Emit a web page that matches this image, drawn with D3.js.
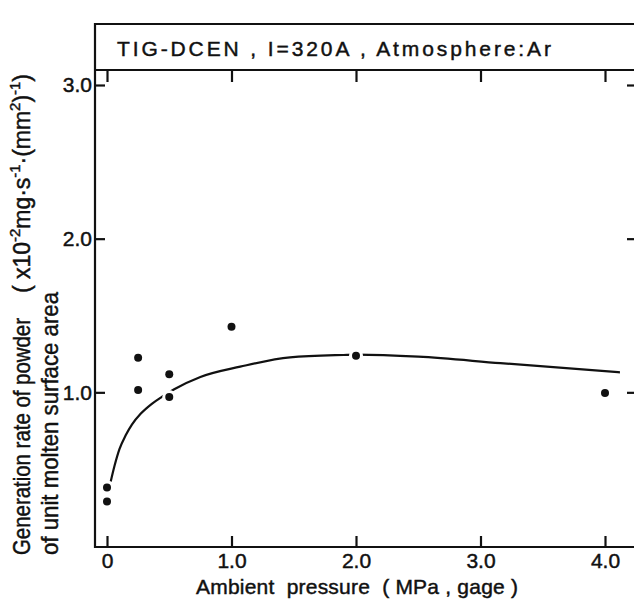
<!DOCTYPE html>
<html>
<head>
<meta charset="utf-8">
<script src="https://cdn.jsdelivr.net/npm/d3@7"></script>
<style>
  body { margin: 0; background: #fff; }
  text { font-family: "Liberation Sans", Arial, sans-serif; fill: #111; stroke: #111; stroke-width: 0.45px; white-space: pre; }
</style>
</head>
<body>
<div id="chart"></div>
<script>
// Powder generation rate vs ambient pressure (TIG-DCEN, I=320A, Ar)
const width = 634;
const height = 601;

// measured points
const pressure = [0, 0, 0.25, 0.25, 0.5, 0.5, 1.0, 2.0, 4.0];
const rate = [0.38, 0.29, 1.225, 1.015, 1.117, 0.97, 1.427, 1.238, 0.995];

// hand-drawn fitting curve
const fitPressure = [0.03, 0.06, 0.10, 0.15, 0.20, 0.27, 0.36, 0.44, 0.54, 0.75, 1.07, 1.47, 1.9, 2.0, 2.5, 3.16, 4.12];
const fitRate = [0.42, 0.52, 0.63, 0.72, 0.79, 0.86, 0.925, 0.97, 1.02, 1.10, 1.167, 1.228, 1.243, 1.245, 1.232, 1.19, 1.13];

// ticks
const xTicks = [0, 1, 2, 3, 4];
const xTickLabels = ["0", "1.0", "2.0", "3.0", "4.0"];
const yTicks = [1, 2, 3];
const yTickLabels = ["1.0", "2.0", "3.0"];

const titleText = "TIG-DCEN , I=320A , Atmosphere:Ar";
const xTitle = "Ambient  pressure  ( MPa , gage )";
const yTitle1 = "Generation rate of powder";
const yTitle2 = "of unit molten surface area";

// frame
const frameL = 95, frameR = 638, frameT = 70, frameB = 547, boxT = 24;

const svg = d3.select("#chart")
    .append("svg")
    .attr("width", width)
    .attr("height", height);

const x = d3.scaleLinear().domain([0, 4]).range([107, 605]);
const y = d3.scaleLinear().domain([0, 3]).range([546, 85]);

const ink = "#111";

// title box + plot frame
svg.append("path")
    .attr("d", `M${frameR + 5},${boxT}H${frameL}V${frameB}H${frameR + 5}M${frameL},${frameT}H${frameR + 5}M${frameR},${boxT}V${frameB}`)
    .attr("fill", "none")
    .attr("stroke", ink)
    .attr("stroke-width", 2.2);

svg.append("text")
    .attr("x", 117)
    .attr("y", 56)
    .attr("font-size", 21)
    .attr("textLength", 434)
    .attr("lengthAdjust", "spacing")
    .text(titleText);

// axes
svg.append("g")
    .attr("transform", `translate(0,${frameB})`)
    .call(d3.axisBottom(x).tickValues(xTicks).tickSizeInner(-11).tickSizeOuter(0)
        .tickPadding(6).tickFormat((d, i) => xTickLabels[i]));

svg.append("g")
    .attr("transform", `translate(0,${frameT})`)
    .call(d3.axisTop(x).tickValues(xTicks).tickSizeInner(-12).tickSizeOuter(0).tickFormat(""));

svg.append("g")
    .attr("transform", `translate(${frameL},0)`)
    .call(d3.axisLeft(y).tickValues(yTicks).tickSizeInner(-10).tickSizeOuter(0)
        .tickPadding(3).tickFormat((d, i) => yTickLabels[i]));

svg.append("g")
    .attr("transform", `translate(${frameR},0)`)
    .call(d3.axisRight(y).tickValues(yTicks).tickSizeInner(-11).tickSizeOuter(0).tickFormat(""));

svg.selectAll(".domain").remove();
svg.selectAll(".tick line").attr("stroke", ink).attr("stroke-width", 2.2);
svg.selectAll(".tick text")
    .attr("font-family", "Liberation Sans, Arial, sans-serif")
    .attr("font-size", 21)
    .attr("fill", ink);

// axis titles
svg.append("text")
    .attr("x", 196)
    .attr("y", 594)
    .attr("font-size", 21)
    .attr("textLength", 322)
    .text(xTitle);

svg.append("text")
    .attr("transform", "translate(30,555) rotate(-90)")
    .attr("font-size", 24)
    .attr("textLength", 237)
    .attr("lengthAdjust", "spacingAndGlyphs")
    .text(yTitle1);

svg.append("text")
    .attr("transform", "translate(58,555) rotate(-90)")
    .attr("font-size", 24)
    .attr("textLength", 263)
    .attr("lengthAdjust", "spacingAndGlyphs")
    .text(yTitle2);

// unit with superscripts
const unitParts = [
    { t: "( x10", sup: false },
    { t: "-2", sup: true },
    { t: "mg·s", sup: false },
    { t: "-1", sup: true },
    { t: "·(mm", sup: false },
    { t: "2", sup: true },
    { t: ")", sup: false },
    { t: "-1", sup: true },
    { t: ")", sup: false }
];
const unit = svg.append("text")
    .attr("transform", "translate(30,293) rotate(-90)")
    .attr("font-size", 23);
let raised = false;
unitParts.forEach(p => {
    const ts = unit.append("tspan").text(p.t);
    if (p.sup) {
        ts.attr("font-size", 15).attr("dy", raised ? 0 : -10);
        raised = true;
    } else {
        ts.attr("dy", raised ? 10 : 0);
        raised = false;
    }
});
const natural = unit.node().getComputedTextLength();
const nChars = unitParts.reduce((s, p) => s + p.t.length, 0);
unit.attr("letter-spacing", (219 - natural) / nChars);

// fitted curve
const line = d3.line()
    .x((d, i) => x(fitPressure[i]))
    .y((d, i) => y(fitRate[i]))
    .curve(d3.curveMonotoneX);

svg.append("path")
    .datum(fitPressure)
    .attr("d", line)
    .attr("fill", "none")
    .attr("stroke", ink)
    .attr("stroke-width", 2.2);

// points, with a white gap where they sit on the curve
svg.selectAll("circle.halo")
    .data(pressure)
    .join("circle")
    .attr("class", "halo")
    .attr("cx", d => x(d))
    .attr("cy", (d, i) => y(rate[i]))
    .attr("r", 7)
    .attr("fill", "#fff");

svg.selectAll("circle.pt")
    .data(pressure)
    .join("circle")
    .attr("class", "pt")
    .attr("cx", d => x(d))
    .attr("cy", (d, i) => y(rate[i]))
    .attr("r", 4)
    .attr("fill", ink);
</script>
</body>
</html>
